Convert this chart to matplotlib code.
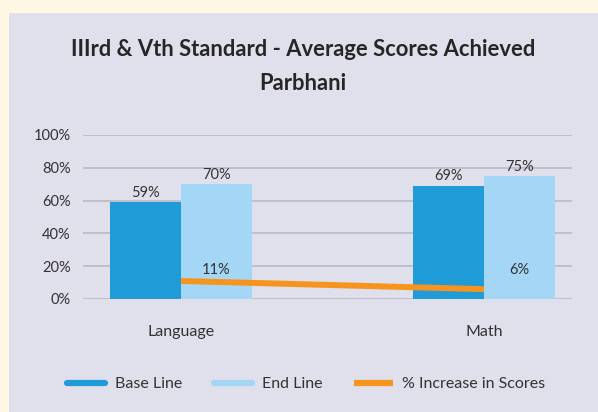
import matplotlib.pyplot as plt
from matplotlib.patches import Rectangle
from matplotlib.ticker import FuncFormatter

# Data
categories = ['Language', 'Math']
base_line = [59, 69]
end_line = [70, 75]
increase = [11, 6]
legend_labels = ['Base Line', 'End Line', '% Increase in Scores']

dark_blue = '#1F9BD8'
light_blue = '#A3D7F5'
orange = '#F7941D'
panel = '#E0DFEC'

plt.rcParams['font.family'] = ['Lato', 'DejaVu Sans']

fig = plt.figure(figsize=(5.98, 4.12), dpi=100)
fig.patch.set_facecolor('#FEF7E4')
fig.patches.append(Rectangle((9 / 598, 0), 1, 1 - 13 / 412, transform=fig.transFigure,
                             facecolor=panel, edgecolor='none', zorder=-1))

ax = fig.add_axes([83 / 598, 1 - 299 / 412, (572 - 83) / 598, (299 - 135) / 412])
ax.set_facecolor('none')

x = list(range(len(categories)))
w = 0.234
b1 = ax.bar([i - w / 2 for i in x], base_line, width=w, color=dark_blue, zorder=2)
b2 = ax.bar([i + w / 2 for i in x], end_line, width=w, color=light_blue, zorder=2)
ln, = ax.plot(x, increase, color=orange, linewidth=4.3, solid_capstyle='butt', zorder=3)

for i in x:
    ax.text(i - w / 2, base_line[i] + 1.5, f'{base_line[i]}%', ha='center', va='bottom',
            fontsize=10.5, color='#333333')
    ax.text(i + w / 2, end_line[i] + 1.5, f'{end_line[i]}%', ha='center', va='bottom',
            fontsize=10.5, color='#333333')
    ax.text(i + w / 2, 17.5, f'{increase[i]}%', ha='center', va='center',
            fontsize=10.5, color='#333333', zorder=4)

ax.set_xlim(-0.323, 1.290)
ax.set_ylim(0, 100)
ax.set_yticks(range(0, 101, 20))
ax.yaxis.set_major_formatter(FuncFormatter(lambda v, p: f'{v:.0f}%'))
ax.set_xticks(x)
ax.set_xticklabels(categories)
ax.tick_params(axis='both', length=0, labelsize=10.5, colors='#333333')
ax.tick_params(axis='x', pad=19, labelsize=11.5)
ax.tick_params(axis='y', pad=9)
ax.grid(axis='y', color='#BDBCC8', linewidth=1.3, zorder=0)
for s in ax.spines.values():
    s.set_visible(False)

fig.text(303 / 598, 1 - 50 / 412, 'IIIrd & Vth Standard - Average Scores Achieved',
         ha='center', va='center', fontsize=15.8, fontweight='bold', color='#262626')
fig.text(303 / 598, 1 - 84 / 412, 'Parbhani',
         ha='center', va='center', fontsize=15.8, fontweight='bold', color='#262626')

handles = [plt.Line2D([], [], color=dark_blue, linewidth=4.5, solid_capstyle='round'),
           plt.Line2D([], [], color=light_blue, linewidth=4.5, solid_capstyle='round'),
           plt.Line2D([], [], color=orange, linewidth=4.5, solid_capstyle='butt')]
fig.legend(handles, legend_labels, loc='center', bbox_to_anchor=(306 / 598, 1 - 384 / 412),
           ncol=3, frameon=False, fontsize=11.5, handlelength=2.4, columnspacing=2.0,
           handletextpad=0.6, labelcolor='#333333')

fig.savefig('out.png', dpi=100, facecolor=fig.get_facecolor())
